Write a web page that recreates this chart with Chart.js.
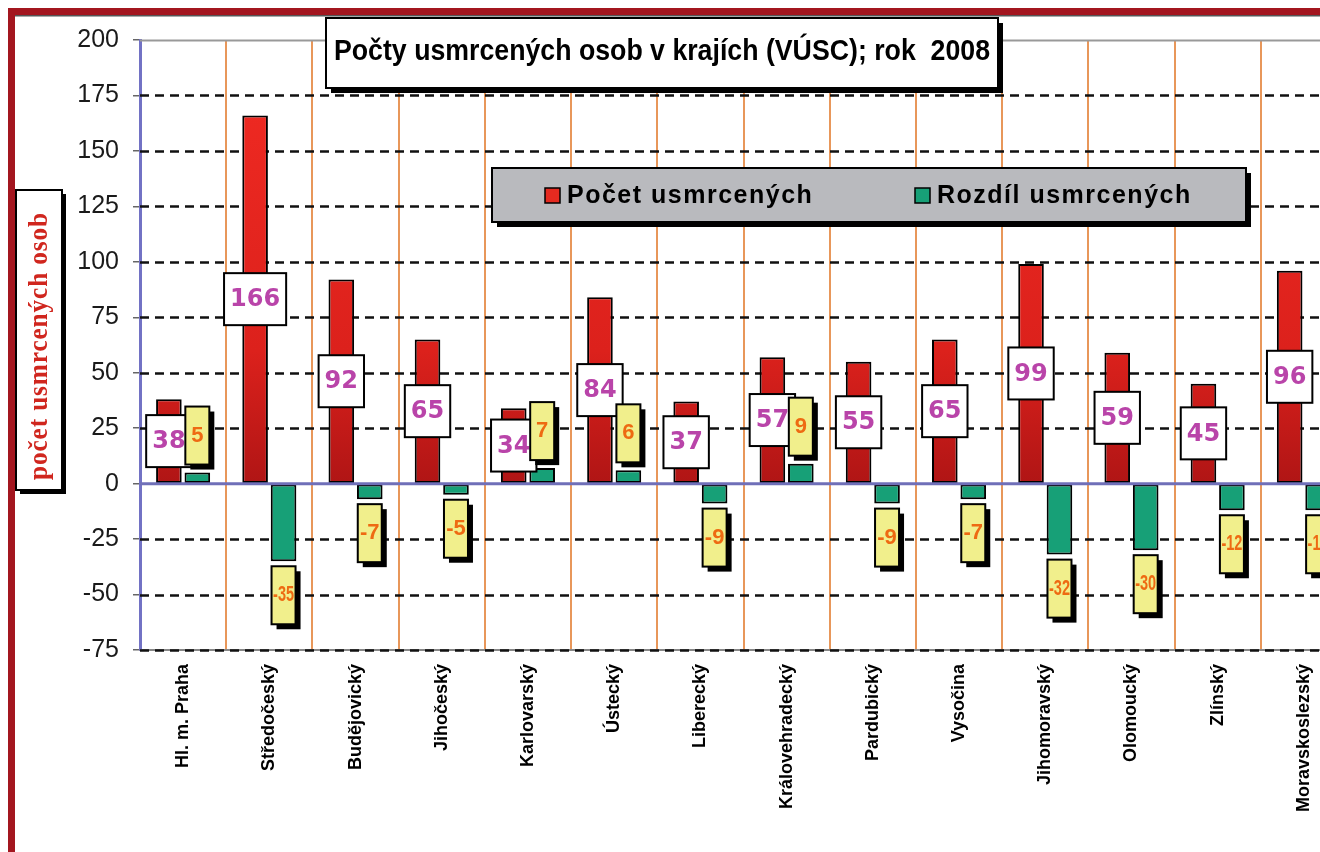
<!DOCTYPE html>
<html>
<head>
<meta charset="utf-8">
<script src="https://cdn.jsdelivr.net/npm/chart.js@4.4.1/dist/chart.umd.min.js"></script>
<style>
  html, body { margin: 0; padding: 0; background: #fff; overflow: hidden; }
  #wrap { position: absolute; left: 0; top: 0; width: 1360px; height: 852px; }
</style>
</head>
<body>
<div id="wrap"><canvas id="myChart" width="1360" height="852"></canvas></div>
<script>
const categories = ['Hl. m. Praha', 'Středočeský', 'Budějovický', 'Jihočeský', 'Karlovarský', 'Ústecký', 'Liberecký',
  'Královehradecký', 'Pardubický', 'Vysočina', 'Jihomoravský', 'Olomoucký', 'Zlínský', 'Moravskoslezský'];
const killed = [38, 166, 92, 65, 34, 84, 37, 57, 55, 65, 99, 59, 45, 96];
const diff = [5, -35, -7, -5, 7, 6, -9, 9, -9, -7, -32, -30, -12, -12];
const yMin = -75;
const yMax = 200;
const yStep = 25;

const chartTitle = 'Počty usmrcených osob v krajích (VÚSC); rok  2008';
const yTitle = 'počet usmrcených osob';
const seriesNames = ['Počet usmrcených', 'Rozdíl usmrcených'];

const shadowBox = (ctx, x, y, w, h, fill, off) => {
  ctx.fillStyle = '#000';
  ctx.fillRect(x + off, y + off, w, h);
  ctx.fillStyle = fill;
  ctx.fillRect(x, y, w, h);
  ctx.lineWidth = 2;
  ctx.strokeStyle = '#000';
  ctx.strokeRect(x, y, w, h);
};

const decor = {
  id: 'decor',
  beforeDraw(chart) {
    const ctx = chart.ctx;
    ctx.save();
    ctx.fillStyle = '#fff';
    ctx.fillRect(0, 0, chart.width, chart.height);
    // frame
    ctx.fillStyle = '#a3161f';
    ctx.fillRect(8, 8, chart.width, 7);
    ctx.fillRect(8, 8, 7, chart.height);
    ctx.fillStyle = '#555';
    ctx.fillRect(15, 15, chart.width, 1.5);
    ctx.restore();
  },
  beforeDatasetsDraw(chart) {
    const ctx = chart.ctx;
    const y = chart.scales.y;
    const a = chart.chartArea;
    ctx.save();
    y.ticks.forEach(t => {
      if (t.value === 0) return;
      const py = Math.round(y.getPixelForValue(t.value)) + 0.5;
      ctx.beginPath();
      if (t.value === yMax) {
        ctx.setLineDash([]);
        ctx.strokeStyle = '#999';
        ctx.lineWidth = 2;
      } else {
        ctx.setLineDash([9, 6]);
        ctx.strokeStyle = '#111';
        ctx.lineWidth = 2.5;
      }
      ctx.moveTo(a.left, py);
      ctx.lineTo(a.right, py);
      ctx.stroke();
    });
    ctx.restore();
  },
  afterDatasetsDraw(chart) {
    const ctx = chart.ctx;
    const y = chart.scales.y;
    const a = chart.chartArea;
    ctx.save();
    // zero line
    const y0 = y.getPixelForValue(0);
    ctx.strokeStyle = '#6f6fb8';
    ctx.lineWidth = 3;
    ctx.beginPath();
    ctx.moveTo(a.left, y0);
    ctx.lineTo(a.right, y0);
    ctx.stroke();

    // labels of red series
    ctx.textAlign = 'center';
    ctx.textBaseline = 'middle';
    chart.getDatasetMeta(0).data.forEach((bar, i) => {
      const txt = String(killed[i]);
      ctx.font = 'bold 24px "DejaVu Sans"';
      const w = Math.max(42, ctx.measureText(txt).width + 12);
      const h = 52;
      const cy = (bar.y + bar.base) / 2;
      ctx.fillStyle = '#fff';
      ctx.fillRect(bar.x - w / 2, cy - h / 2, w, h);
      ctx.lineWidth = 2;
      ctx.strokeStyle = '#000';
      ctx.strokeRect(bar.x - w / 2, cy - h / 2, w, h);
      ctx.fillStyle = '#b944a9';
      ctx.fillText(txt, bar.x, cy + 1, w - 8);
    });

    // labels of green series
    chart.getDatasetMeta(1).data.forEach((bar, i) => {
      const v = diff[i];
      const w = 24, h = 58;
      const top = v >= 0 ? bar.y - 8 - h : bar.y + 5;
      shadowBox(ctx, bar.x - w / 2, top, w, h, '#f1ef8c', 5);
      ctx.fillStyle = '#ee6a12';
      ctx.font = 'bold 22px "Liberation Sans"';
      ctx.fillText(String(v), bar.x, top + h / 2, 21);
    });

    // y title box
    shadowBox(ctx, 16, 190, 46, 300, '#fff', 4);
    ctx.save();
    ctx.translate(40, 346);
    ctx.rotate(-Math.PI / 2);
    ctx.fillStyle = '#d0261e';
    ctx.font = 'bold 27px "Liberation Serif"';
    ctx.letterSpacing = '1px';
    ctx.fillText(yTitle, 0, 0, 268);
    ctx.restore();

    // chart title
    shadowBox(ctx, 326, 18, 672, 70, '#fff', 5);
    ctx.fillStyle = '#000';
    ctx.font = 'bold 29px "Liberation Sans"';
    ctx.fillText(chartTitle, 662, 52, 656);

    // legend
    shadowBox(ctx, 492, 168, 754, 54, '#b9babe', 5);
    ctx.textAlign = 'left';
    ctx.font = 'bold 25px "Liberation Sans"';
    ctx.letterSpacing = '1.5px';
    const items = [
      { x: 545, color: '#e52a20', text: seriesNames[0] },
      { x: 915, color: '#17a077', text: seriesNames[1] }
    ];
    items.forEach(it => {
      ctx.fillStyle = it.color;
      ctx.fillRect(it.x, 188, 15, 15);
      ctx.lineWidth = 1.5;
      ctx.strokeStyle = '#000';
      ctx.strokeRect(it.x, 188, 15, 15);
      ctx.fillStyle = '#000';
      ctx.fillText(it.text, it.x + 22, 196, 262);
    });
    ctx.restore();
  }
};

const redFill = (context) => {
  const chart = context.chart;
  const a = chart.chartArea;
  if (!a) return '#e52a20';
  const y = chart.scales.y;
  const g = chart.ctx.createLinearGradient(0, y.getPixelForValue(0), 0, y.getPixelForValue(yMax));
  g.addColorStop(0, '#b01515');
  g.addColorStop(0.3, '#dc211c');
  g.addColorStop(1, '#f22b23');
  return g;
};

const initChart = () => {
  const ctx = document.getElementById('myChart');
  const data = {
    labels: categories,
    datasets: [{
      label: seriesNames[0],
      data: killed,
      backgroundColor: redFill,
      borderColor: '#000',
      borderWidth: 2,
      borderSkipped: false
    }, {
      label: seriesNames[1],
      data: diff,
      backgroundColor: '#17a077',
      borderColor: '#000',
      borderWidth: 2,
      borderSkipped: false
    }]
  };
  const config = {
    type: 'bar',
    data,
    plugins: [decor],
    options: {
      responsive: false,
      animation: false,
      events: [],
      layout: { padding: { left: 0, top: 40, right: 13, bottom: 0 } },
      datasets: {
        bar: { categoryPercentage: 0.66, barPercentage: 0.9 }
      },
      plugins: {
        legend: { display: false },
        title: { display: false },
        tooltip: { enabled: false }
      },
      scales: {
        x: {
          afterFit: s => { s.height = 202; },
          grid: { color: '#e8975a', lineWidth: 2, drawTicks: false, offset: true },
          border: { color: '#888', width: 2 },
          ticks: {
            minRotation: 90,
            maxRotation: 90,
            padding: 14,
            color: '#000',
            font: { family: 'Liberation Sans', size: 18, weight: 'bold' }
          }
        },
        y: {
          min: yMin,
          max: yMax,
          afterFit: s => { s.width = 140; },
          grid: { drawOnChartArea: false, drawTicks: true, tickLength: 7, color: '#666', lineWidth: 1.5 },
          border: { color: '#7272c4', width: 3 },
          ticks: {
            stepSize: yStep,
            padding: 14,
            color: '#1a1a1a',
            font: { family: 'Liberation Sans', size: 25 }
          }
        }
      }
    }
  };
  new Chart(ctx, config);
};

initChart();
</script>
</body>
</html>
